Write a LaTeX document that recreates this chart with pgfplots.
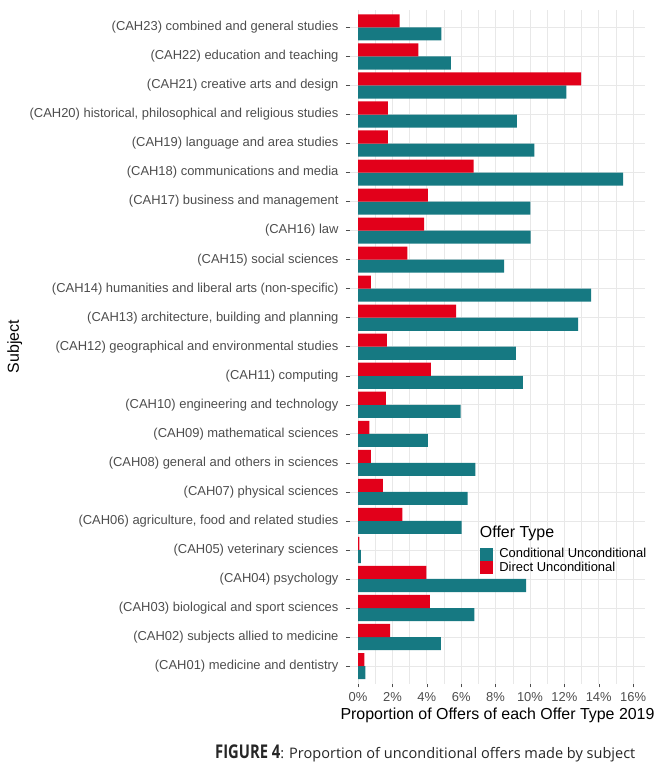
\documentclass[border=0pt]{standalone}
\usepackage{pgfplots}
\pgfplotsset{compat=1.18}
\usepackage{pgfplotstable}
\usepackage{graphicx}
\usepackage{fontspec}
\setmainfont{Liberation Sans}
\newfontfamily\capfont{Open Sans}

\definecolor{condteal}{RGB}{22,121,130}
\definecolor{directred}{RGB}{226,0,26}
\definecolor{gridgray}{RGB}{232,232,232}
\definecolor{labgray}{RGB}{77,77,77}

% proportion of offers (%), CAH01 at n=1 ... CAH23 at n=23
\pgfplotstableread{
n cond direct
1 0.43 0.37
2 4.82 1.86
3 6.76 4.17
4 9.77 3.98
5 0.17 0.08
6 6.02 2.58
7 6.37 1.44
8 6.83 0.74
9 4.06 0.66
10 5.96 1.61
11 9.59 4.23
12 9.18 1.67
13 12.80 5.71
14 13.55 0.74
15 8.49 2.87
16 10.04 3.84
17 10.02 4.06
18 15.42 6.72
19 10.25 1.73
20 9.24 1.73
21 12.12 12.97
22 5.40 3.51
23 4.85 2.41
}\offers

\begin{document}
\begin{tikzpicture}
\useasboundingbox (-350bp,-93.5bp) rectangle (322bp,683.5bp);
\begin{axis}[
  scale only axis,
  width=295bp, height=673.5bp,
  xmin=-0.47, xmax=16.69,
  ymin=0.4, ymax=23.6,
  xbar, bar width=0.45,
  axis line style={draw=none},
  xtick={0,2,...,16},
  minor x tick num=1,
  xticklabel={\pgfmathprintnumber{\tick}\%},
  ytick={1,...,23},
  yticklabels={
    (CAH01) medicine and dentistry,
    (CAH02) subjects allied to medicine,
    (CAH03) biological and sport sciences,
    (CAH04) psychology,
    (CAH05) veterinary sciences,
    {(CAH06) agriculture, food and related studies},
    (CAH07) physical sciences,
    (CAH08) general and others in sciences,
    (CAH09) mathematical sciences,
    (CAH10) engineering and technology,
    (CAH11) computing,
    (CAH12) geographical and environmental studies,
    {(CAH13) architecture, building and planning},
    (CAH14) humanities and liberal arts (non-specific),
    (CAH15) social sciences,
    (CAH16) law,
    (CAH17) business and management,
    (CAH18) communications and media,
    (CAH19) language and area studies,
    {(CAH20) historical, philosophical and religious studies},
    (CAH21) creative arts and design,
    (CAH22) education and teaching,
    (CAH23) combined and general studies},
  xtick pos=bottom, ytick pos=left,
  tick align=outside,
  major tick length=4bp, minor tick length=0bp,
  tick style={labgray, line width=0.5bp},
  xmajorgrids, xminorgrids, ymajorgrids,
  major grid style={gridgray, line width=0.7bp},
  minor grid style={gridgray, line width=0.5bp},
  ticklabel style={font=\fontsize{13}{13}\selectfont, text=labgray},
  yticklabel style={xshift=-4bp},
  xticklabel style={yshift=-1bp},
  /pgf/number format/assume math mode=true,
  xlabel={Proportion of Offers of each Offer Type 2019},
  ylabel={Subject},
  label style={font=\fontsize{16}{17}\selectfont},
  ylabel style={at={(axis description cs:-1.136,0.5)}, anchor=center},
  legend style={draw=none, fill=none, at={(0.44,0.204)}, anchor=north west,
    font=\fontsize{13}{13}\selectfont, row sep=-1.5bp, inner sep=0pt,
    cells={anchor=west}},
]
\addplot[fill=condteal, draw=none, bar shift=-0.225, forget plot] table[x=cond, y=n] {\offers};
\addplot[fill=directred, draw=none, bar shift=0.225, forget plot] table[x=direct, y=n] {\offers};
\addlegendimage{legend image code/.code={\fill[condteal] (0bp,-6bp) rectangle (12bp,6bp); \path (17bp,0bp);}}
\addlegendentry{Conditional Unconditional}
\addlegendimage{legend image code/.code={\fill[directred] (0bp,-6bp) rectangle (12bp,6bp); \path (17bp,0bp);}}
\addlegendentry{Direct Unconditional}
\node[anchor=south west, inner sep=0pt, font=\fontsize{16}{17}\selectfont] at (rel axis cs:0.44,0.211) {Offer Type};
\end{axis}
\node[anchor=west, inner sep=0pt, text=black!85] at (-135bp,-69.5bp)
  {\scalebox{0.78}[1]{\capfont\bfseries\fontsize{19}{20}\selectfont FIGURE 4}{\capfont\fontsize{14.6}{16}\selectfont: Proportion of unconditional offers made by subject}};
\end{tikzpicture}
\end{document}
